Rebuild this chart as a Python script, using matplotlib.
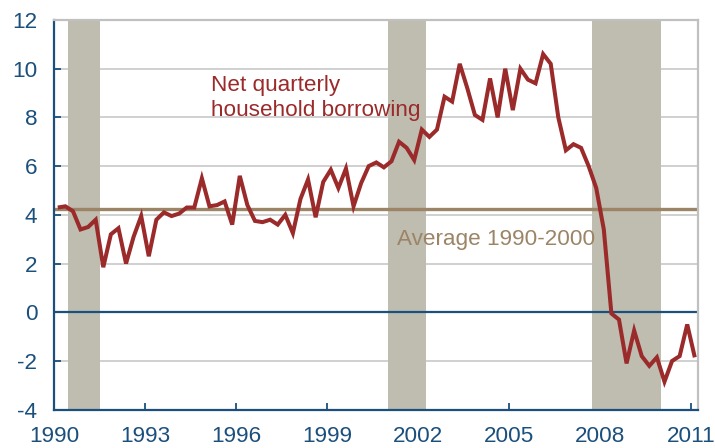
import matplotlib
matplotlib.use("Agg")
import matplotlib.pyplot as plt
import numpy as np

plt.rcParams['font.family'] = ['Liberation Sans', 'DejaVu Sans']

# Quarterly data, 1990Q1 .. 2011Q1
start_year = 1990
borrowing = [4.3, 4.35, 4.15, 3.4, 3.5, 3.8, 1.85, 3.2, 3.45, 2.0,
             3.1, 3.95, 2.3, 3.8, 4.1, 3.95, 4.05, 4.3, 4.3, 5.5,
             4.35, 4.4, 4.55, 3.6, 5.6, 4.4, 3.75, 3.7, 3.8, 3.6,
             4.0, 3.25, 4.65, 5.45, 3.9, 5.35, 5.85, 5.1, 5.9, 4.35,
             5.3, 6.0, 6.15, 5.95, 6.2, 7.0, 6.75, 6.25, 7.5, 7.2,
             7.5, 8.85, 8.65, 10.2, 9.2, 8.1, 7.9, 9.6, 8.0, 10.0,
             8.3, 10.0, 9.55, 9.4, 10.6, 10.2, 8.0, 6.65, 6.9, 6.75,
             6.0, 5.1, 3.4, -0.05, -0.3, -2.1, -0.75, -1.8, -2.2, -1.85,
             -2.85, -2.0, -1.8, -0.5, -1.85]
average_1990_2000 = 4.22
recession_starts = [1990.46, 2001.0, 2007.73]
recession_ends = [1991.52, 2002.26, 2010.0]
x_ticks = [1990, 1993, 1996, 1999, 2002, 2005, 2008, 2011]
y_ticks = [-4, -2, 0, 2, 4, 6, 8, 10, 12]

quarters = start_year + 0.125 + 0.25 * np.arange(len(borrowing))

navy = '#1b4f7c'
red = '#9b2a2a'
tan = '#9c8466'
band = '#bfbcb0'
grid = '#c8c8c8'
fs = 16.2

fig = plt.figure(figsize=(7.15, 4.48), dpi=100)
ax = fig.add_axes([0.0755, 0.0855, 0.9003, 0.8699])

ax.set_xlim(1990, 2011.22)
ax.set_ylim(-4, 12)

for y in y_ticks:
    if y not in (-4, 0):
        ax.axhline(y, color=grid, lw=1.2, zorder=1)

for s, e in zip(recession_starts, recession_ends):
    ax.axvspan(s, e, color=band, lw=0, zorder=2)

ax.axhline(0, color=navy, lw=1.6, zorder=3)
ax.axhline(average_1990_2000, color=tan, lw=2.4, zorder=4)
ax.plot(quarters, borrowing, color=red, lw=2.9, zorder=5,
        solid_joinstyle='miter', solid_capstyle='butt')

ax.text(1995.17, 9.1, 'Net quarterly', color=red, fontsize=fs,
        ha='left', va='baseline', zorder=6)
ax.text(1995.17, 8.04, 'household borrowing', color=red, fontsize=fs,
        ha='left', va='baseline', zorder=6)
ax.text(2001.32, 2.77, 'Average 1990-2000', color=tan, fontsize=fs,
        ha='left', va='baseline', zorder=6)

ax.set_xticks(x_ticks)
ax.set_xticklabels([str(t) for t in x_ticks])
ax.set_yticks(y_ticks)
ax.set_yticklabels([str(t) for t in y_ticks])
ax.tick_params(axis='both', direction='in', colors=navy, labelcolor=navy,
               labelsize=fs, width=1.3, length=5)
ax.tick_params(axis='x', pad=12)
ax.tick_params(axis='y', pad=12)

for side in ('left', 'bottom'):
    ax.spines[side].set_color(navy)
    ax.spines[side].set_linewidth(1.6)
for side in ('top', 'right'):
    ax.spines[side].set_color('#c0c0c0')
    ax.spines[side].set_linewidth(1.6)
for sp in ax.spines.values():
    sp.set_zorder(7)

fig.savefig('out.png', dpi=100)
